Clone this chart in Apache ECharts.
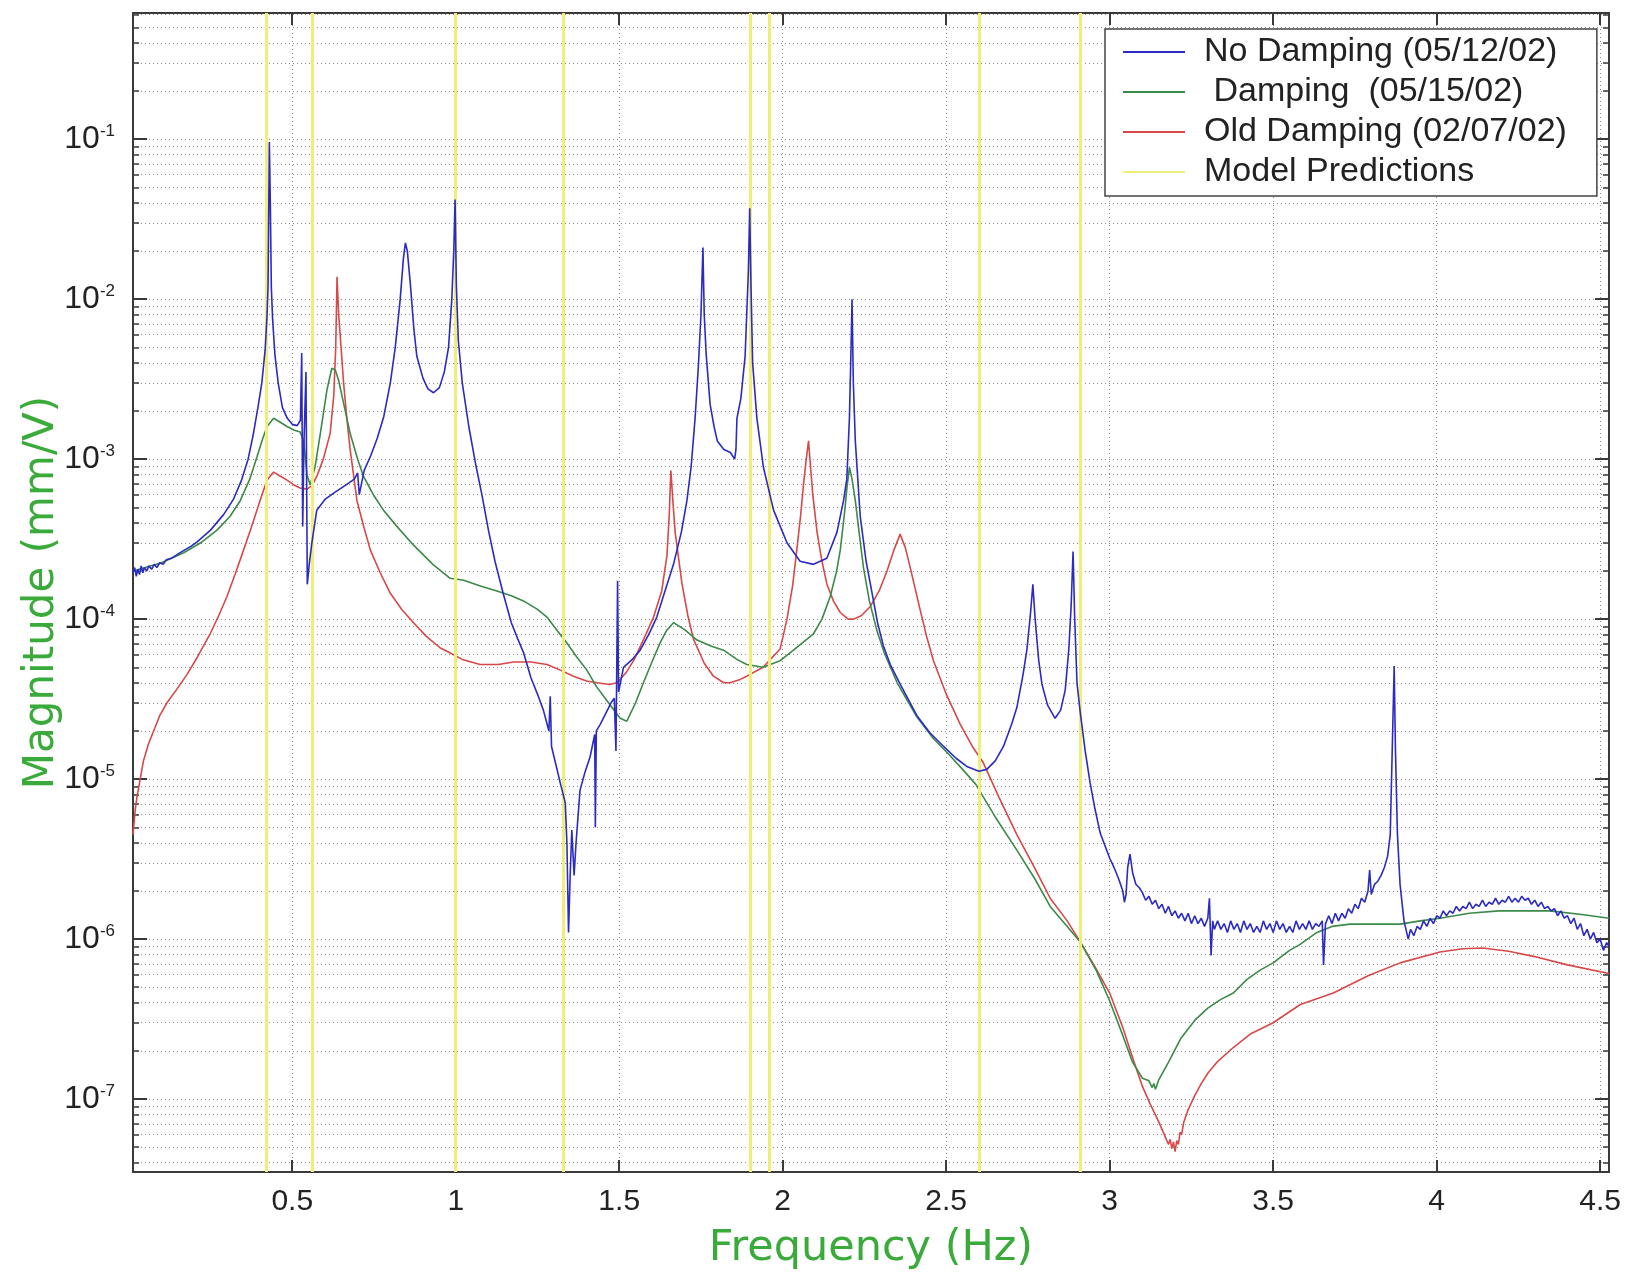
<!DOCTYPE html>
<html>
<head>
<meta charset="utf-8">
<script src="https://cdn.jsdelivr.net/npm/echarts@6/dist/echarts.min.js"></script>
<style>
html,body{margin:0;padding:0;background:#fff;}
#chart{width:1630px;height:1275px;}
</style>
</head>
<body>
<div id="chart"></div>
<script>
// ---- axis ranges / tick values ----
const X_MIN = 0.013, X_MAX = 4.527;
const Y_MIN = 3.5e-8, Y_MAX = 0.615;
const xTicks = [0.5, 1, 1.5, 2, 2.5, 3, 3.5, 4, 4.5];
const yDecades = [1e-7, 1e-6, 1e-5, 1e-4, 1e-3, 1e-2, 1e-1];
const yMinor = [];
[-8, -7, -6, -5, -4, -3, -2, -1].forEach(function (e) {
  for (let k = 1; k <= 9; k++) {
    const v = k * Math.pow(10, e);
    if (v >= Y_MIN && v <= Y_MAX) yMinor.push(v);
  }
});

// ---- Model predictions (yellow vertical lines) ----
const modelFreq = [0.417, 0.56, 0.998, 1.33, 1.90, 1.957, 2.60, 2.913];

// ---- No Damping (05/12/02) ----
const blueFreq = [0.013,0.018,0.023,0.028,0.033,0.038,0.043,0.048,0.055,0.062,0.07,0.078,0.086,0.095,0.105,0.115,0.13,0.15,0.17,0.19,0.21,0.25,0.29,0.32,0.345,0.365,0.38,0.395,0.407,0.417,0.423,0.426,0.430,0.433,0.436,0.44,0.447,0.457,0.47,0.485,0.5,0.515,0.525,0.529,0.532,0.536,0.542,0.546,0.552,0.56,0.575,0.6,0.63,0.66,0.69,0.70,0.705,0.72,0.74,0.76,0.78,0.80,0.815,0.83,0.84,0.846,0.852,0.861,0.872,0.881,0.9,0.915,0.932,0.95,0.965,0.978,0.988,0.994,0.998,1.002,1.008,1.02,1.04,1.06,1.08,1.10,1.12,1.145,1.17,1.19,1.207,1.23,1.25,1.268,1.285,1.289,1.293,1.32,1.335,1.34,1.345,1.35,1.355,1.362,1.368,1.38,1.395,1.411,1.425,1.427,1.43,1.442,1.46,1.475,1.485,1.49,1.495,1.498,1.513,1.54,1.564,1.59,1.615,1.64,1.666,1.69,1.707,1.72,1.732,1.742,1.75,1.756,1.76,1.766,1.778,1.79,1.80,1.82,1.84,1.853,1.857,1.86,1.872,1.885,1.895,1.899,1.903,1.908,1.921,1.941,1.972,2.013,2.053,2.094,2.135,2.166,2.186,2.196,2.204,2.209,2.212,2.216,2.222,2.237,2.255,2.268,2.29,2.308,2.329,2.36,2.41,2.45,2.492,2.53,2.563,2.6,2.624,2.65,2.675,2.7,2.716,2.735,2.747,2.758,2.765,2.772,2.783,2.793,2.81,2.833,2.85,2.864,2.875,2.882,2.888,2.893,2.9,2.91,2.925,2.94,2.955,2.971,3.0,3.01,3.02,3.03,3.04,3.045,3.05,3.055,3.062,3.07,3.08,3.09,3.1,3.11,3.12,3.13,3.14,3.15,3.16,3.17,3.18,3.19,3.20,3.21,3.22,3.23,3.24,3.25,3.26,3.27,3.28,3.29,3.30,3.305,3.31,3.315,3.32,3.33,3.34,3.35,3.36,3.37,3.38,3.39,3.40,3.41,3.42,3.43,3.44,3.45,3.46,3.47,3.48,3.49,3.50,3.51,3.52,3.53,3.54,3.55,3.56,3.57,3.58,3.59,3.60,3.61,3.62,3.63,3.64,3.65,3.654,3.66,3.67,3.68,3.69,3.70,3.71,3.72,3.73,3.74,3.75,3.76,3.77,3.78,3.79,3.795,3.80,3.81,3.82,3.83,3.84,3.85,3.858,3.864,3.87,3.874,3.88,3.888,3.90,3.913,3.92,3.93,3.94,3.95,3.96,3.97,3.98,3.99,4.00,4.01,4.02,4.03,4.04,4.05,4.06,4.07,4.08,4.09,4.10,4.11,4.12,4.13,4.14,4.15,4.16,4.17,4.18,4.19,4.20,4.21,4.22,4.23,4.24,4.25,4.26,4.27,4.28,4.29,4.30,4.31,4.32,4.33,4.34,4.35,4.36,4.37,4.38,4.39,4.40,4.41,4.42,4.43,4.44,4.45,4.46,4.47,4.48,4.49,4.50,4.51,4.52,4.527];
const blueMag = [1.95e-4,2.1e-4,1.85e-4,2.05e-4,1.9e-4,2.15e-4,1.95e-4,2.1e-4,2.0e-4,2.15e-4,2.05e-4,2.2e-4,2.1e-4,2.25e-4,2.2e-4,2.35e-4,2.4e-4,2.55e-4,2.7e-4,2.85e-4,3.05e-4,3.6e-4,4.5e-4,5.6e-4,7.4e-4,1.0e-3,1.4e-3,2.1e-3,3.0e-3,4.8e-3,8e-3,0.012,0.096,0.04,0.012,7.5e-3,4.5e-3,3.0e-3,2.1e-3,1.8e-3,1.65e-3,1.62e-3,1.75e-3,4.6e-3,3.8e-4,1.3e-3,3.5e-3,1.65e-4,2.2e-4,3.0e-4,4.8e-4,5.6e-4,6.2e-4,6.8e-4,7.5e-4,8.2e-4,6.0e-4,8.5e-4,1.05e-3,1.35e-3,1.85e-3,3.0e-3,5.0e-3,9.9e-3,0.018,0.0225,0.02,0.0126,6.5e-3,4.4e-3,3.2e-3,2.75e-3,2.6e-3,2.8e-3,3.5e-3,5.0e-3,0.01,0.02,0.042,0.012,5.5e-3,3.0e-3,1.6e-3,9.5e-4,6.0e-4,3.6e-4,2.3e-4,1.45e-4,9.5e-5,7.5e-5,6.2e-5,4.3e-5,3.4e-5,2.7e-5,2.0e-5,3.3e-5,1.6e-5,9.4e-6,7.1e-6,4.0e-6,1.1e-6,2.5e-6,4.8e-6,2.5e-6,4.0e-6,8.5e-6,1.1e-5,1.38e-5,1.9e-5,5.0e-6,2.0e-5,2.2e-5,2.6e-5,3.0e-5,3.2e-5,1.5e-5,1.74e-4,3.5e-5,5.0e-5,5.6e-5,6.4e-5,8.0e-5,1.03e-4,1.5e-4,2.2e-4,3.5e-4,5.5e-4,9.0e-4,1.8e-3,3.8e-3,8e-3,0.021,8e-3,4.5e-3,2.2e-3,1.6e-3,1.3e-3,1.15e-3,1.1e-3,1.0e-3,1.15e-3,1.8e-3,2.4e-3,4.4e-3,0.015,0.037,0.012,4.0e-3,1.8e-3,8.9e-4,4.8e-4,3.0e-4,2.3e-4,2.2e-4,2.4e-4,3.5e-4,5.5e-4,7.5e-4,1.8e-3,5e-3,0.010,3e-3,1.3e-3,4.4e-4,2.3e-4,1.66e-4,9.5e-5,6.8e-5,5.2e-5,3.9e-5,2.5e-5,1.95e-5,1.6e-5,1.35e-5,1.2e-5,1.12e-5,1.15e-5,1.3e-5,1.6e-5,2.2e-5,2.8e-5,4.5e-5,6.5e-5,1.1e-4,1.65e-4,1.0e-4,5.5e-5,3.9e-5,2.9e-5,2.4e-5,2.7e-5,3.6e-5,6.5e-5,1.2e-4,2.65e-4,1.0e-4,4.0e-5,2.6e-5,1.5e-5,9.5e-6,6.5e-6,4.6e-6,3.2e-6,2.9e-6,2.6e-6,2.3e-6,2.0e-6,1.7e-6,1.9e-6,2.8e-6,3.4e-6,2.6e-6,2.2e-6,2.1e-6,1.95e-6,1.75e-6,1.85e-6,1.65e-6,1.75e-6,1.55e-6,1.65e-6,1.45e-6,1.6e-6,1.4e-6,1.5e-6,1.35e-6,1.45e-6,1.3e-6,1.45e-6,1.25e-6,1.4e-6,1.25e-6,1.35e-6,1.2e-6,1.35e-6,1.8e-6,7.9e-7,1.3e-6,1.15e-6,1.3e-6,1.15e-6,1.25e-6,1.1e-6,1.3e-6,1.15e-6,1.25e-6,1.1e-6,1.3e-6,1.15e-6,1.25e-6,1.1e-6,1.2e-6,1.1e-6,1.3e-6,1.15e-6,1.25e-6,1.1e-6,1.3e-6,1.15e-6,1.25e-6,1.1e-6,1.2e-6,1.1e-6,1.3e-6,1.15e-6,1.25e-6,1.15e-6,1.3e-6,1.15e-6,1.25e-6,1.2e-6,1.3e-6,6.9e-7,1.25e-6,1.4e-6,1.25e-6,1.45e-6,1.3e-6,1.45e-6,1.35e-6,1.55e-6,1.45e-6,1.65e-6,1.55e-6,1.8e-6,1.7e-6,2.0e-6,2.7e-6,1.9e-6,2.2e-6,2.3e-6,2.5e-6,2.8e-6,3.3e-6,4.5e-6,1.5e-5,5.1e-5,1.5e-5,4.5e-6,2.2e-6,1.3e-6,1.0e-6,1.15e-6,1.05e-6,1.2e-6,1.15e-6,1.3e-6,1.2e-6,1.35e-6,1.25e-6,1.4e-6,1.35e-6,1.5e-6,1.4e-6,1.5e-6,1.45e-6,1.6e-6,1.5e-6,1.6e-6,1.55e-6,1.7e-6,1.55e-6,1.65e-6,1.6e-6,1.75e-6,1.6e-6,1.7e-6,1.65e-6,1.8e-6,1.65e-6,1.75e-6,1.7e-6,1.85e-6,1.7e-6,1.8e-6,1.7e-6,1.85e-6,1.75e-6,1.8e-6,1.65e-6,1.75e-6,1.6e-6,1.7e-6,1.55e-6,1.6e-6,1.5e-6,1.55e-6,1.4e-6,1.5e-6,1.35e-6,1.4e-6,1.25e-6,1.35e-6,1.15e-6,1.25e-6,1.05e-6,1.15e-6,1.0e-6,1.1e-6,9.5e-7,1.0e-6,8.5e-7,9.5e-7,9.0e-7];

// ---- Damping (05/15/02) ----
const greenFreq = [0.013,0.05,0.1,0.168,0.22,0.27,0.31,0.341,0.37,0.392,0.41,0.423,0.443,0.46,0.484,0.505,0.524,0.535,0.545,0.555,0.57,0.586,0.606,0.621,0.632,0.642,0.66,0.677,0.7,0.718,0.75,0.779,0.82,0.871,0.93,0.983,1.024,1.08,1.126,1.17,1.207,1.25,1.279,1.31,1.34,1.37,1.401,1.43,1.462,1.49,1.503,1.523,1.55,1.574,1.6,1.625,1.645,1.666,1.7,1.738,1.78,1.819,1.86,1.89,1.94,1.992,2.033,2.094,2.12,2.145,2.165,2.176,2.19,2.196,2.204,2.212,2.222,2.235,2.247,2.265,2.288,2.31,2.35,2.41,2.46,2.512,2.55,2.59,2.65,2.716,2.77,2.818,2.87,2.91,2.96,3.0,3.04,3.07,3.1,3.12,3.13,3.135,3.14,3.15,3.18,3.218,3.26,3.3,3.34,3.378,3.42,3.46,3.5,3.55,3.58,3.634,3.68,3.735,3.8,3.888,3.95,4.01,4.1,4.19,4.3,4.347,4.45,4.527];
const greenMag = [2.0e-4,2.1e-4,2.25e-4,2.6e-4,3.0e-4,3.6e-4,4.4e-4,5.5e-4,7.5e-4,1.03e-3,1.35e-3,1.6e-3,1.8e-3,1.72e-3,1.6e-3,1.52e-3,1.48e-3,1.3e-3,8e-4,6.9e-4,9e-4,1.45e-3,2.7e-3,3.7e-3,3.6e-3,3.1e-3,2.1e-3,1.45e-3,1.0e-3,7.8e-4,5.9e-4,4.8e-4,3.8e-4,2.9e-4,2.2e-4,1.8e-4,1.75e-4,1.6e-4,1.5e-4,1.4e-4,1.3e-4,1.15e-4,1.03e-4,8.5e-5,7.1e-5,5.8e-5,4.8e-5,3.8e-5,3.1e-5,2.6e-5,2.4e-5,2.3e-5,3.0e-5,4.0e-5,5.4e-5,7.1e-5,8.5e-5,9.5e-5,8.6e-5,7.4e-5,6.8e-5,6.4e-5,5.6e-5,5.2e-5,5.0e-5,5.5e-5,6.4e-5,8.1e-5,1.0e-4,1.38e-4,2.0e-4,2.7e-4,4.8e-4,6.5e-4,8.9e-4,7.5e-4,5.5e-4,3.3e-4,2.1e-4,1.3e-4,8.5e-5,6.2e-5,4.0e-5,2.45e-5,1.8e-5,1.4e-5,1.15e-5,9.3e-6,5.8e-6,3.6e-6,2.4e-6,1.6e-6,1.2e-6,9.6e-7,6.3e-7,4.1e-7,2.5e-7,1.7e-7,1.35e-7,1.3e-7,1.18e-7,1.25e-7,1.15e-7,1.32e-7,1.7e-7,2.4e-7,3.1e-7,3.7e-7,4.2e-7,4.6e-7,5.6e-7,6.4e-7,7.1e-7,8.5e-7,9.2e-7,1.1e-6,1.2e-6,1.24e-6,1.24e-6,1.24e-6,1.3e-6,1.35e-6,1.45e-6,1.5e-6,1.5e-6,1.5e-6,1.42e-6,1.35e-6];

// ---- Old Damping (02/07/02) ----
const redFreq = [0.013,0.02,0.025,0.035,0.045,0.06,0.076,0.095,0.117,0.145,0.178,0.21,0.249,0.275,0.3,0.325,0.351,0.372,0.392,0.41,0.423,0.443,0.46,0.484,0.505,0.524,0.545,0.56,0.575,0.595,0.616,0.627,0.633,0.637,0.642,0.647,0.657,0.667,0.677,0.698,0.72,0.739,0.769,0.8,0.835,0.871,0.91,0.953,0.973,1.02,1.075,1.13,1.177,1.23,1.279,1.32,1.36,1.4,1.432,1.47,1.493,1.52,1.544,1.575,1.605,1.63,1.646,1.653,1.658,1.664,1.671,1.692,1.71,1.727,1.76,1.788,1.82,1.839,1.87,1.89,1.94,1.992,2.013,2.03,2.043,2.055,2.064,2.072,2.079,2.085,2.092,2.105,2.12,2.135,2.155,2.176,2.2,2.217,2.24,2.268,2.295,2.319,2.34,2.359,2.375,2.39,2.42,2.44,2.461,2.5,2.543,2.58,2.614,2.66,2.716,2.77,2.818,2.87,2.91,2.95,3.0,3.04,3.073,3.1,3.124,3.15,3.17,3.18,3.185,3.19,3.195,3.2,3.205,3.21,3.215,3.22,3.226,3.24,3.26,3.28,3.3,3.328,3.378,3.43,3.5,3.583,3.684,3.79,3.888,4.01,4.08,4.14,4.22,4.296,4.4,4.527];
const redMag = [4.5e-6,6.5e-6,7.7e-6,1.0e-5,1.3e-5,1.65e-5,2.0e-5,2.5e-5,3.0e-5,3.6e-5,4.5e-5,5.8e-5,8.1e-5,1.05e-4,1.38e-4,1.9e-4,2.7e-4,3.6e-4,4.8e-4,6.2e-4,7.4e-4,8.3e-4,7.9e-4,7.4e-4,6.9e-4,6.6e-4,6.5e-4,6.8e-4,7.8e-4,1.0e-3,1.45e-3,2.5e-3,5e-3,0.0138,8e-3,5.8e-3,3.0e-3,1.8e-3,1.15e-3,5.5e-4,3.7e-4,2.7e-4,1.95e-4,1.45e-4,1.15e-4,9.5e-5,7.8e-5,6.6e-5,6.3e-5,5.6e-5,5.2e-5,5.2e-5,5.4e-5,5.4e-5,5.2e-5,4.8e-5,4.4e-5,4.1e-5,4.0e-5,3.9e-5,4.0e-5,4.6e-5,5.5e-5,7.5e-5,1.03e-4,1.5e-4,2.5e-4,4.5e-4,8.5e-4,5.5e-4,3.5e-4,1.66e-4,1.05e-4,7.5e-5,5.3e-5,4.4e-5,4.0e-5,4.0e-5,4.2e-5,4.4e-5,5.0e-5,6.5e-5,1.0e-4,1.6e-4,2.7e-4,4.5e-4,7.1e-4,1.0e-3,1.3e-3,9e-4,6e-4,3.5e-4,2.3e-4,1.66e-4,1.3e-4,1.1e-4,1.0e-4,1.0e-4,1.05e-4,1.2e-4,1.5e-4,2.0e-4,2.7e-4,3.4e-4,2.8e-4,2.1e-4,1.15e-4,7.8e-5,5.5e-5,3.4e-5,2.2e-5,1.6e-5,1.26e-5,7.8e-6,4.5e-6,2.8e-6,1.8e-6,1.3e-6,9.6e-7,7.0e-7,4.6e-7,2.8e-7,1.74e-7,1.2e-7,9.3e-8,7.2e-8,5.8e-8,5.2e-8,5.6e-8,4.9e-8,5.4e-8,4.7e-8,5.5e-8,5.2e-8,6.2e-8,6.0e-8,7.1e-8,8.6e-8,1.05e-7,1.25e-7,1.45e-7,1.7e-7,2.1e-7,2.55e-7,3.0e-7,3.9e-7,4.6e-7,5.9e-7,7.1e-7,8.3e-7,8.7e-7,8.8e-7,8.4e-7,7.8e-7,6.9e-7,6.1e-7];

const seriesNames = ['No Damping (05/12/02)', ' Damping  (05/15/02)', 'Old Damping (02/07/02)', 'Model Predictions'];
const COLORS = { blue: '#2b2bc4', green: '#3b8a48', red: '#d84848', yellow: '#f0ee78' };

function pairs(f, m) { return f.map(function (x, i) { return [x, m[i]]; }); }

const AXIS_COLOR = '#3a3a3a';
const TICK_FONT = '"Liberation Sans", Arial, sans-serif';
const TITLE_FONT = '"Comic Sans MS", "DejaVu Sans", sans-serif';
const GRID_LINE = { color: '#8c8c8c', width: 1, type: [1, 3] };

const chart = echarts.init(document.getElementById('chart'), null, { renderer: 'canvas' });

function logAxis(extra) {
  return Object.assign({
    type: 'log', logBase: 10, min: Y_MIN, max: Y_MAX,
    axisLine: { show: false }, axisTick: { show: false }, axisLabel: { show: false },
    splitLine: { show: false }, minorTick: { show: false }, minorSplitLine: { show: false }
  }, extra);
}

const option = {
  animation: false,
  backgroundColor: '#ffffff',
  grid: { left: 133, right: 21, top: 13, bottom: 103, containLabel: false, outerBoundsMode: 'none' },
  legend: {
    orient: 'vertical', left: 1105, top: 29,
    data: seriesNames.map(function (n) { return { name: n, icon: 'rect' }; }),
    itemWidth: 62, itemHeight: 2, itemGap: 4,
    padding: [5, 30, 6, 18],
    borderColor: '#444', borderWidth: 1.5, backgroundColor: '#ffffff',
    textStyle: { fontFamily: TICK_FONT, fontSize: 34, color: '#222', lineHeight: 36, padding: [0, 0, 0, 14] }
  },
  xAxis: [
    {
      type: 'value', position: 'bottom', min: X_MIN, max: X_MAX,
      axisLine: { show: true, onZero: false, lineStyle: { color: AXIS_COLOR, width: 2 } },
      axisTick: { show: true, inside: true, length: 12, customValues: xTicks, lineStyle: { color: AXIS_COLOR, width: 2 } },
      axisLabel: { show: true, customValues: xTicks, fontFamily: TICK_FONT, fontSize: 30, color: '#222', margin: 15 },
      splitLine: { show: true, lineStyle: GRID_LINE },
      name: 'Frequency (Hz)', nameLocation: 'middle', nameGap: 55, nameMoveOverlap: false,
      nameTextStyle: { fontFamily: TITLE_FONT, fontSize: 43, color: '#3aaa3a' }
    },
    {
      type: 'value', position: 'top', min: X_MIN, max: X_MAX,
      axisLine: { show: true, onZero: false, lineStyle: { color: AXIS_COLOR, width: 2 } },
      axisTick: { show: true, inside: true, length: 12, customValues: xTicks, lineStyle: { color: AXIS_COLOR, width: 2 } },
      axisLabel: { show: false }, splitLine: { show: false }
    }
  ],
  yAxis: [
    logAxis({
      position: 'left',
      axisLine: { show: true, onZero: false, lineStyle: { color: AXIS_COLOR, width: 2 } },
      axisTick: { show: true, inside: true, length: 14, customValues: yDecades, lineStyle: { color: AXIS_COLOR, width: 2 } },
      axisLabel: {
        show: true, customValues: yDecades, margin: 18,
        formatter: function (v) { return '{b|10}{s|' + Math.round(Math.log10(v)) + '}'; },
        rich: {
          b: { fontFamily: TICK_FONT, fontSize: 32, color: '#222' },
          s: { fontFamily: TICK_FONT, fontSize: 17, color: '#222', verticalAlign: 'top' }
        }
      },
      name: 'Magnitude (mm/V)', nameLocation: 'middle', nameGap: 70, nameRotate: 90, nameMoveOverlap: false,
      nameTextStyle: { fontFamily: TITLE_FONT, fontSize: 42, color: '#3aaa3a' }
    }),
    logAxis({
      position: 'left',
      axisTick: { show: true, inside: true, length: 6, customValues: yMinor, lineStyle: { color: AXIS_COLOR, width: 1.5 } },
      splitLine: { show: true, lineStyle: GRID_LINE }
    }),
    logAxis({
      position: 'right',
      axisLine: { show: true, onZero: false, lineStyle: { color: AXIS_COLOR, width: 2 } },
      axisTick: { show: true, inside: true, length: 14, customValues: yDecades, lineStyle: { color: AXIS_COLOR, width: 2 } }
    }),
    logAxis({
      position: 'right',
      axisTick: { show: true, inside: true, length: 6, customValues: yMinor, lineStyle: { color: AXIS_COLOR, width: 1.5 } }
    })
  ],
  series: [
    {
      name: seriesNames[3], type: 'line', data: [], xAxisIndex: 0, yAxisIndex: 0, z: 1,
      symbol: 'none', color: COLORS.yellow,
      lineStyle: { color: COLORS.yellow, width: 3 },
      markLine: {
        silent: true, symbol: ['none', 'none'], animation: false,
        label: { show: false },
        lineStyle: { color: COLORS.yellow, width: 3, type: 'solid' },
        data: modelFreq.map(function (x) { return { xAxis: x }; })
      }
    },
    {
      name: seriesNames[2], type: 'line', data: pairs(redFreq, redMag), xAxisIndex: 0, yAxisIndex: 0, z: 3,
      symbol: 'none', showSymbol: false, color: COLORS.red, lineStyle: { color: COLORS.red, width: 1.6 }
    },
    {
      name: seriesNames[1], type: 'line', data: pairs(greenFreq, greenMag), xAxisIndex: 0, yAxisIndex: 0, z: 4,
      symbol: 'none', showSymbol: false, color: COLORS.green, lineStyle: { color: COLORS.green, width: 1.6 }
    },
    {
      name: seriesNames[0], type: 'line', data: pairs(blueFreq, blueMag), xAxisIndex: 0, yAxisIndex: 0, z: 5,
      symbol: 'none', showSymbol: false, color: COLORS.blue, lineStyle: { color: COLORS.blue, width: 1.6 }
    }
  ]
};
chart.setOption(option);
</script>
</body>
</html>
